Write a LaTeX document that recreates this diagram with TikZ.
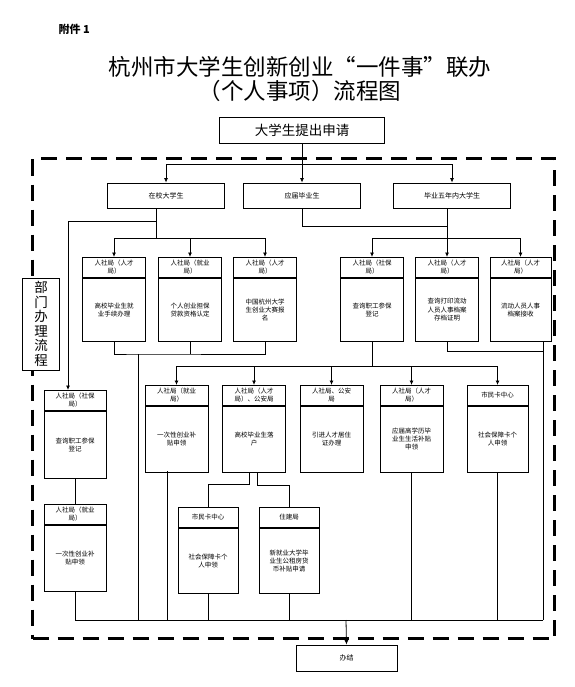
\documentclass[tikz,border=0pt]{standalone}
\usepackage{fontspec}
\setmainfont{Noto Sans CJK SC}
\usetikzlibrary{arrows.meta, positioning, calc}
\newcommand{\boxfont}{\fontsize{6.5}{8.2}\selectfont}

\begin{document}
\begin{tikzpicture}[
    x=1pt, y=-1pt,
    dept/.style={draw, line width=0.8pt, minimum width=63pt, minimum height=20pt, inner sep=0.5pt, font=\boxfont, align=center, anchor=north},
    task/.style={draw, line width=0.8pt, minimum width=63pt, inner sep=0.5pt, font=\boxfont, align=center},
    kind/.style={draw, line width=0.8pt, minimum width=117pt, minimum height=25pt, font=\fontsize{7}{8}\selectfont},
    frame/.style={draw, line width=3pt, dash pattern=on 16pt off 9pt},
    ln/.style={line width=0.8pt},
    arr/.style={-{Latex[length=4.5pt, width=4pt]}, line width=0.8pt}
]
    \useasboundingbox (0,0) rectangle (574,687);

    % Title
    \node[anchor=west, font=\bfseries\fontsize{11}{12}\selectfont] (annex) at (55,29) {附件 1};
    \node[align=center, font=\fontsize{22.5}{24}\selectfont] (title) at (300,79) {杭州市大学生创新创业“一件事”联办\\（个人事项）流程图};
    \node[draw, line width=0.8pt, minimum width=165pt, minimum height=26pt, font=\fontsize{13.5}{14}\selectfont] (apply) at (302,130) {大学生提出申请};

    % Department frame
    \node[frame, minimum width=522pt, minimum height=480pt, anchor=north west] (deptframe) at (31,157) {};
    \node[draw, line width=0.8pt, fill=white, minimum width=37pt, minimum height=92pt, inner sep=1pt, align=center, font=\fontsize{13.5}{14.5}\selectfont] (deptlabel) at (41,324) {部\\门\\办\\理\\流\\程};

    % Applicant types
    \node[kind] (instud) at (166,195.5) {在校大学生};
    \node[kind] (fresh) at (302,195.5) {应届毕业生};
    \node[kind] (grad5) at (452,195.5) {毕业五年内大学生};

    % Row B
    \node[dept] (b1h) at (114,257) {人社局（人才\\局）};
    \node[task, minimum height=63pt, below=0pt of b1h] (b1) {高校毕业生就\\业手续办理};
    \node[dept] (b2h) at (190,257) {人社局（就业\\局）};
    \node[task, minimum height=63pt, below=0pt of b2h] (b2) {个人创业担保\\贷款资格认定};
    \node[dept] (b3h) at (265,257) {人社局（人才\\局）};
    \node[task, minimum height=63pt, below=0pt of b3h] (b3) {中国杭州大学\\生创业大赛报\\名};
    \node[dept] (b4h) at (372,257) {人社局（社保\\局）};
    \node[task, minimum height=63pt, below=0pt of b4h] (b4) {查询职工参保\\登记};
    \node[dept] (b5h) at (447,257) {人社局（人才\\局）};
    \node[task, minimum height=63pt, below=0pt of b5h] (b5) {查询打印流动\\人员人事档案\\存档证明};
    \node[dept, minimum width=61pt] (b6h) at (520.5,257) {人社局（人才\\局）};
    \node[task, minimum width=61pt, minimum height=63pt, below=0pt of b6h] (b6) {流动人员人事\\档案接收};

    % Left column
    \node[dept, minimum width=62pt] (c1h) at (75,390) {人社局（社保\\局）};
    \node[task, minimum width=62pt, minimum height=67pt, below=0pt of c1h] (c1) {查询职工参保\\登记};
    \node[dept, minimum width=62pt] (c2h) at (75,504) {人社局（就业\\局）};
    \node[task, minimum width=62pt, minimum height=66pt, below=0pt of c2h] (c2) {一次性创业补\\贴申领};

    % Row D
    \node[dept] (d1h) at (176.5,385) {人社局（就业\\局）};
    \node[task, minimum height=66pt, below=0pt of d1h] (d1) {一次性创业补\\贴申领};
    \node[dept] (d2h) at (254,385) {人社局（人才\\局）、公安局};
    \node[task, minimum height=66pt, below=0pt of d2h] (d2) {高校毕业生落\\户};
    \node[dept] (d3h) at (331.5,385) {人社局、公安\\局};
    \node[task, minimum height=66pt, below=0pt of d3h] (d3) {引进人才居住\\证办理};
    \node[dept] (d4h) at (411.5,385) {人社局（人才\\局）};
    \node[task, minimum height=66pt, below=0pt of d4h] (d4) {应届高学历毕\\业生生活补贴\\申领};
    \node[dept, minimum width=61pt] (d5h) at (497.5,385) {市民卡中心};
    \node[task, minimum width=61pt, minimum height=66pt, below=0pt of d5h] (d5) {社会保障卡个\\人申领};

    % Row E
    \node[dept, minimum width=60pt] (e1h) at (208,507) {市民卡中心};
    \node[task, minimum width=60pt, minimum height=65pt, below=0pt of e1h] (e1) {社会保障卡个\\人申领};
    \node[dept, minimum width=60pt] (e2h) at (289,507) {住建局};
    \node[task, minimum width=60pt, minimum height=65pt, below=0pt of e2h] (e2) {新就业大学毕\\业生公租房货\\币补贴申请};

    \node[draw, line width=0.8pt, minimum width=101pt, minimum height=26pt, font=\fontsize{7}{8}\selectfont] (done) at (346.5,658) {办结};

    % Split points
    \coordinate (topbar) at (302,164);
    \coordinate (cbranch) at (156,221);
    \coordinate (cdrop) at (68,221);
    \coordinate (lsplit) at (156,238);
    \coordinate (fjoin) at (447,226);
    \coordinate (rsplit) at (447,238);
    \coordinate (lmerge) at (138,354);
    \coordinate (b5join) at (543,351);
    \coordinate (dsplit) at (372,366);
    \coordinate (e1turn) at (249,484);
    \coordinate (e2turn) at (257,485);
    \coordinate (d1drop) at (167,471);
    \coordinate (endbar) at (346,620);

    % Arrows
    \draw[arr] (apply.south) -- (fresh.north);
    \draw[arr] (topbar) -| (instud.north);
    \draw[arr] (topbar) -| (grad5.north);

    \draw[ln] (instud.south -| lsplit) -- (lsplit);
    \draw[arr] (cbranch) -- (cdrop) -- (cdrop |- c1h.north);
    \draw[arr] (lsplit) -| (b1h.north);
    \draw[arr] (lsplit) -| (b3h.north);
    \draw[arr] (b2h.north |- lsplit) -- (b2h.north);

    \draw[ln] (fresh.south) |- (fjoin);
    \draw[ln] (grad5.south -| rsplit) -- (rsplit);
    \draw[arr] (rsplit) -| (b4h.north);
    \draw[arr] (rsplit) -| (b6h.north);
    \draw[arr] (rsplit) -- (b5h.north);

    \draw[ln] (b1.south) |- (lmerge) -| (b3.south);
    \draw[ln] (b2.south) -- (b2.south |- lmerge);
    \draw[ln] (lmerge) -- (lmerge |- endbar);

    \draw[ln] (b5.south) |- (b5join);
    \draw[ln] (b6.south -| b5join) -- (b5join |- endbar);

    \draw[ln] (b4.south) -- (dsplit);
    \draw[arr] (dsplit) -| (d1h.north);
    \draw[arr] (dsplit) -| (d5h.north);
    \draw[arr] (d2h.north |- dsplit) -- (d2h.north);
    \draw[arr] (d3h.north |- dsplit) -- (d3h.north);
    \draw[arr] (d4h.north |- dsplit) -- (d4h.north);

    \draw[ln] (c1.south) -- (c2h.north);
    \draw[ln] (d2.south -| e1turn) -- (e1turn) -| (e1h.north);
    \draw[ln] (d2.south -| e2turn) -- (e2turn) -| (e2h.north);

    % Merge to the end
    \draw[ln] (c2.south) |- (endbar);
    \draw[ln] (b5join |- endbar) -- (endbar);
    \draw[ln] (d1drop) -- (d1drop |- endbar);
    \draw[ln] (e1.south) -- (e1.south |- endbar);
    \draw[ln] (e2.south) -- (e2.south |- endbar);
    \draw[ln] (d4.south) -- (d4.south |- endbar);
    \draw[ln] (d5.south) -- (d5.south |- endbar);
    \draw[arr] (endbar) -- (done.north);
\end{tikzpicture}
\end{document}
